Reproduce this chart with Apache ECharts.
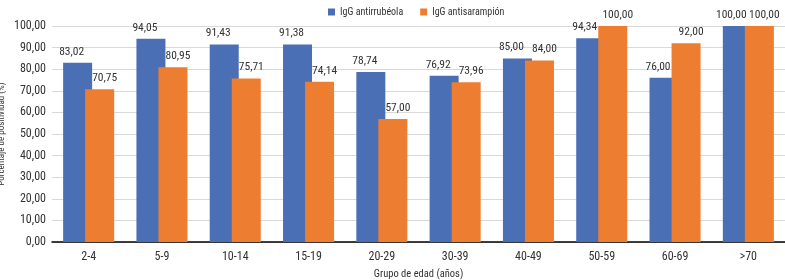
<!DOCTYPE html>
<html>
<head>
<meta charset="utf-8">
<script src="https://cdn.jsdelivr.net/npm/echarts@6/dist/echarts.min.js"></script>
<style>
  html, body { margin: 0; padding: 0; background: #fff; }
  #chart { width: 785px; height: 280px; }
</style>
</head>
<body>
<div id="chart"></div>
<script>
var categories = ['2-4', '5-9', '10-14', '15-19', '20-29', '30-39', '40-49', '50-59', '60-69', '>70'];
var rubeola = [83.02, 94.05, 91.43, 91.38, 78.74, 76.92, 85.00, 94.34, 76.00, 100.00];
var sarampion = [70.75, 80.95, 75.71, 74.14, 57.00, 73.96, 84.00, 100.00, 92.00, 100.00];
var seriesNames = ['IgG antirrubéola', 'IgG antisarampión'];

var font = "'Roboto Condensed', 'Liberation Sans', sans-serif";
function fmt(v) {
    return Number(v).toFixed(2).replace('.', ',');
}

var myChart = echarts.init(document.getElementById('chart'));
var option = {
    animation: false,
    textStyle: {
        fontFamily: font,
        color: '#333'
    },
    legend: {
        data: seriesNames,
        top: 2,
        left: 323,
        itemWidth: 7,
        itemHeight: 7,
        itemGap: 17,
        icon: 'rect',
        textStyle: {
            fontFamily: font,
            fontSize: 10,
            color: '#333'
        }
    },
    grid: {
        left: 52,
        right: 0,
        top: 26,
        bottom: 38,
        outerBoundsMode: 'none'
    },
    xAxis: {
        type: 'category',
        data: categories,
        name: 'Grupo de edad (años)',
        nameLocation: 'middle',
        nameGap: 27,
        nameTextStyle: { fontFamily: font, fontSize: 10.5, color: '#333' },
        axisLine: { lineStyle: { color: '#000', width: 1.5 } },
        axisTick: { show: false },
        axisLabel: { fontFamily: font, fontSize: 12, color: '#333', margin: 9 }
    },
    yAxis: {
        type: 'value',
        min: 0,
        max: 100,
        interval: 10,
        name: 'Porcentaje de positividad (%)',
        nameLocation: 'middle',
        nameGap: 46,
        nameMoveOverlap: false,
        nameTextStyle: { fontFamily: font, fontSize: 9, color: '#333' },
        axisLine: { show: false },
        axisTick: { show: false },
        axisLabel: {
            fontFamily: font,
            fontSize: 12,
            color: '#333',
            margin: 6,
            formatter: fmt
        },
        splitLine: { lineStyle: { color: '#d9d9d9' } }
    },
    series: [
        {
            name: seriesNames[0],
            type: 'bar',
            data: rubeola,
            barWidth: 29,
            barGap: '-24%',
            itemStyle: { color: '#4a6fb5' },
            label: {
                show: true,
                position: 'top',
                distance: 5,
                offset: [-6, 0],
                fontFamily: font,
                fontSize: 11.5,
                color: '#333',
                formatter: function (p) { return fmt(p.value); }
            }
        },
        {
            name: seriesNames[1],
            type: 'bar',
            data: sarampion,
            barWidth: 29,
            itemStyle: { color: '#ed7d31' },
            label: {
                show: true,
                position: 'top',
                distance: 5,
                offset: [5, 0],
                fontFamily: font,
                fontSize: 11.5,
                color: '#333',
                formatter: function (p) { return fmt(p.value); }
            }
        }
    ]
};
myChart.setOption(option);
</script>
</body>
</html>
